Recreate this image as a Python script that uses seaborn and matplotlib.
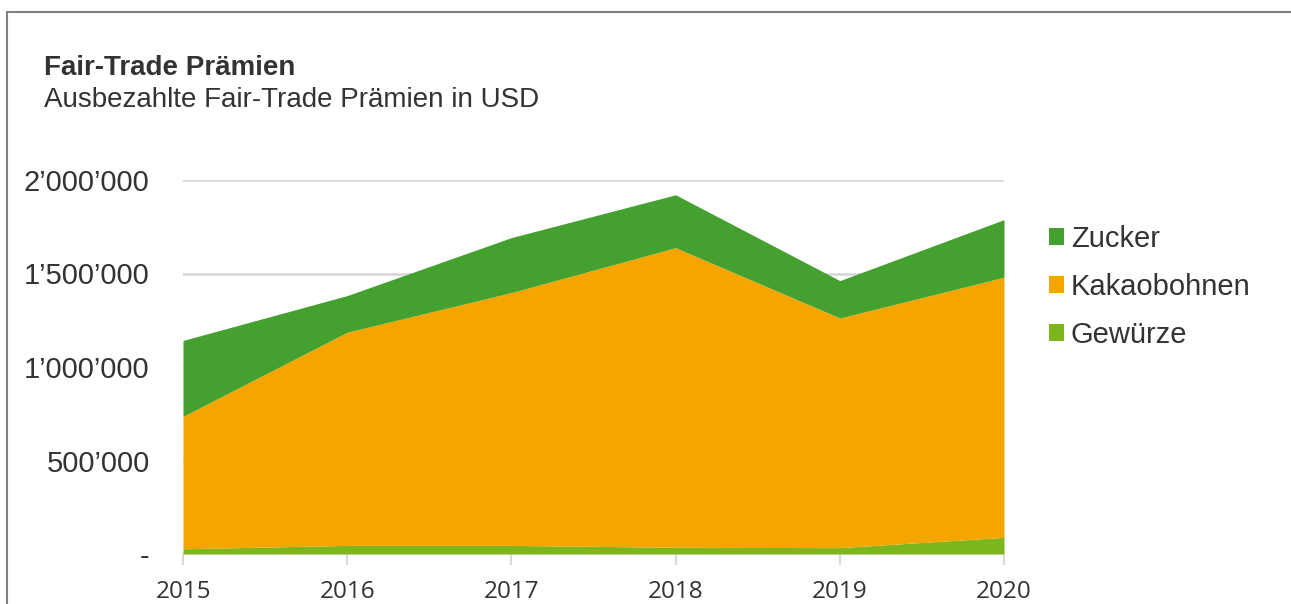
import matplotlib
matplotlib.use("Agg")
import matplotlib.pyplot as plt
from matplotlib.lines import Line2D
from matplotlib.patches import Patch
import seaborn as sns
import pandas as pd

years = [2015, 2016, 2017, 2018, 2019, 2020]
gewuerze = [28000, 46000, 46000, 36000, 34000, 89000]
kakaobohnen = [708000, 1140000, 1352000, 1602000, 1228000, 1391000]
zucker = [406000, 196000, 294000, 283000, 200000, 308000]
series_names = ["Gewürze", "Kakaobohnen", "Zucker"]
colors = {"Gewürze": "#7db61c", "Kakaobohnen": "#f5a500", "Zucker": "#44a12f"}
y_ticks = [0, 500000, 1000000, 1500000, 2000000]

sns.set_theme(style="white")
plt.rcParams["font.family"] = ["Liberation Sans", "DejaVu Sans"]

df = pd.DataFrame({"Jahr": years, "Gewürze": gewuerze,
                   "Kakaobohnen": kakaobohnen, "Zucker": zucker})

fig = plt.figure(figsize=(12.91, 6.04), dpi=100)
ax = fig.add_axes([183 / 1291, 1 - 554 / 604, (1004 - 183) / 1291, (554 - 180) / 604])

ax.stackplot(df["Jahr"], [df[n] for n in series_names],
             colors=[colors[n] for n in series_names], linewidth=0, zorder=2)

ax.set_xlim(years[0], years[-1])
ax.set_ylim(0, 2000000)
ax.set_yticks(y_ticks)
ax.set_yticklabels(["-" if v == 0 else f"{v:,}".replace(",", "\u2019") for v in y_ticks])
ax.set_xticks(years)
ax.set_xticklabels([str(y) for y in years], fontfamily="Open Sans")
ax.yaxis.grid(True, color="#d9d9d9", linewidth=2, zorder=0)
ax.xaxis.grid(False)
for s in ax.spines.values():
    s.set_visible(False)
ax.tick_params(axis="y", length=0, labelsize=21, labelcolor="#333333", pad=24)
ax.tick_params(axis="x", length=8, width=1.5, color="#d9d9d9", direction="out",
               labelsize=17.5, labelcolor="#333333", pad=11, bottom=True)
ax.set_axisbelow(True)

# Legend
handles = [Patch(facecolor=colors[n], edgecolor="none") for n in ["Zucker", "Kakaobohnen", "Gewürze"]]
leg = fig.legend(handles, ["Zucker", "Kakaobohnen", "Gewürze"],
                 loc="upper left", bbox_to_anchor=(1049 / 1291, 1 - 225 / 604),
                 frameon=False, fontsize=21, labelcolor="#333333",
                 handlelength=0.5, handleheight=0.5, handletextpad=0.25,
                 labelspacing=0.68, borderpad=0, borderaxespad=0)

# Title and subtitle
fig.text(44 / 1291, 1 - 75 / 604, "Fair-Trade Prämien", fontsize=20,
         fontweight="bold", color="#333333", va="baseline")
fig.text(44 / 1291, 1 - 107 / 604, "Ausbezahlte Fair-Trade Prämien in USD",
         fontsize=20, color="#333333", va="baseline")

# Frame
fig.add_artist(Line2D([7 / 1291, 7 / 1291], [0, 1 - 12 / 604], color="#808080",
                      linewidth=1.5, transform=fig.transFigure))
fig.add_artist(Line2D([7 / 1291, 1], [1 - 12 / 604, 1 - 12 / 604], color="#808080",
                      linewidth=1.5, transform=fig.transFigure))

fig.savefig("out.png", dpi=100)
